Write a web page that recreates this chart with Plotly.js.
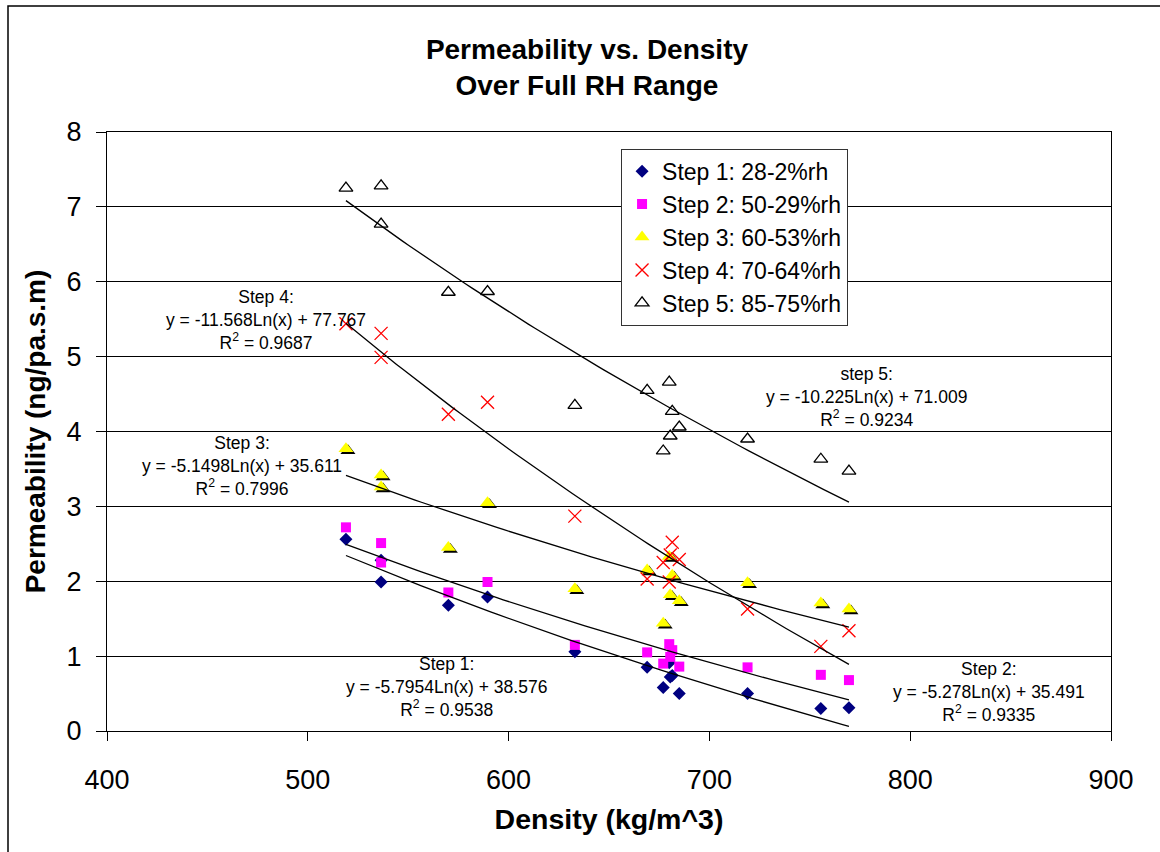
<!DOCTYPE html>
<html>
<head>
<meta charset="utf-8">
<script src="https://cdn.plot.ly/plotly-3.0.1.min.js"></script>
<style>
  html, body { margin: 0; padding: 0; background: #fff; }
  #chart { width: 1160px; height: 852px; }
</style>
</head>
<body>
<div id="chart"></div>
<script>
// ---- Data ----
const density = [519, 536.5, 536.5, 570, 589.5, 633, 669, 677, 680, 680.5, 681.5, 685, 719, 755.5, 769.5];

const step1 = [2.56, 2.28, 1.99, 1.68, 1.79, 1.06, 0.85, 0.58, 0.91, 0.72, 0.74, 0.50, 0.50, 0.30, 0.31];
const step2 = [2.72, 2.51, 2.25, 1.85, 1.99, 1.15, 1.05, 0.90, 1.16, 0.99, 1.08, 0.86, 0.85, 0.75, 0.68];
const step3 = [3.77, 3.42, 3.26, 2.45, 3.05, 1.90, 2.15, 1.44, 2.33, 1.82, 2.08, 1.74, 1.98, 1.71, 1.63];
const step4 = [5.44, 5.31, 4.99, 4.23, 4.39, 2.87, 2.03, 2.25, 1.99, 2.35, 2.52, 2.29, 1.63, 1.13, 1.34];
const step5 = [7.25, 7.28, 6.77, 5.86, 5.87, 4.35, 4.55, 3.74, 4.66, 3.94, 4.27, 4.06, 3.90, 3.63, 3.47];

const seriesNames = ["Step 1: 28-2%rh", "Step 2: 50-29%rh", "Step 3: 60-53%rh", "Step 4: 70-64%rh", "Step 5: 85-75%rh"];

// Logarithmic trendline coefficients as printed on the chart: y = a*Ln(x) + b
const trendA = [-5.7954, -5.278, -5.1498, -11.568, -10.225];
const trendB = [38.576, 35.491, 35.611, 77.767, 71.009];
const trendR2 = ["0.9538", "0.9335", "0.7996", "0.9687", "0.9234"];
const trendLabels = ["Step 1:", "Step 2:", "Step 3:", "Step 4:", "step 5:"];

const xTicks = [400, 500, 600, 700, 800, 900];
const yTicks = [0, 1, 2, 3, 4, 5, 6, 7, 8];

// ---- Build traces ----
const FONT = "Arial, 'Liberation Sans', Helvetica, sans-serif";

// pixel -> data conversion for the small drop shadow of the yellow triangles
const plotW = 1004, plotH = 599;
const shadowDx = 2 * (900 - 400) / plotW;
const shadowDy = -2 * (8 - 0) / plotH;

const traces = [];

traces.push({
  x: density, y: step1, mode: "markers", type: "scatter", name: seriesNames[0],
  marker: { symbol: "diamond", color: "#000080", size: 10 }
});
traces.push({
  x: density, y: step2, mode: "markers", type: "scatter", name: seriesNames[1],
  marker: { symbol: "square", color: "#FF00FF", size: 10 }
});
// shadow for step 3 triangles
traces.push({
  x: density.map(v => v + shadowDx), y: step3.map(v => v + shadowDy),
  mode: "markers", type: "scatter", showlegend: false, hoverinfo: "skip",
  marker: { symbol: "triangle-up", color: "#000000", size: 13 }
});
traces.push({
  x: density, y: step3, mode: "markers", type: "scatter", name: seriesNames[2],
  marker: { symbol: "triangle-up", color: "#FFFF00", size: 13 }
});
traces.push({
  x: density, y: step4, mode: "markers", type: "scatter", name: seriesNames[3],
  marker: { symbol: "x-thin-open", color: "#FF0000", size: 13, line: { color: "#FF0000", width: 1.3 } }
});
traces.push({
  x: density, y: step5, mode: "markers", type: "scatter", name: seriesNames[4],
  marker: { symbol: "triangle-up-open", color: "#000000", size: 12, line: { color: "#000000", width: 1.3 } }
});

// trendlines
const xMin = Math.min(...density), xMax = Math.max(...density);
const nT = 80;
const tx = [];
for (let i = 0; i <= nT; i++) tx.push(xMin + (xMax - xMin) * i / nT);
for (let k = 0; k < 5; k++) {
  traces.push({
    x: tx, y: tx.map(v => trendA[k] * Math.log(v) + trendB[k]),
    mode: "lines", type: "scatter", showlegend: false, hoverinfo: "skip",
    line: { color: "#000000", width: 1.3 }
  });
}

// trendline equation labels
function eqText(k) {
  const a = trendA[k], b = trendB[k];
  return trendLabels[k] + "<br>y = " + a + "Ln(x) + " + b + "<br>R<sup>2</sup> = " + trendR2[k];
}
// label positions (data coords): index -> [x, y]
const labelPos = [[569.3, 0.59], [839.2, 0.525], [467.2, 3.54], [479.2, 5.49], [778, 4.46]];
const annotations = labelPos.map((p, k) => ({
  x: p[0], y: p[1], xref: "x", yref: "y", text: eqText(k), showarrow: false,
  xanchor: "center", yanchor: "middle", align: "center",
  font: { family: FONT, size: 17.5, color: "#000" }
}));

const layout = {
  width: 1160, height: 852,
  margin: { l: 107, r: 49, t: 132, b: 121, pad: 0 },
  paper_bgcolor: "#fff", plot_bgcolor: "#fff",
  showlegend: true,
  title: {
    text: "Permeability vs. Density<br>Over Full RH Range",
    font: { family: FONT, size: 28, weight: 700, color: "#000" },
    x: 0.506, xref: "container", xanchor: "center",
    y: 0.931, yref: "container", yanchor: "middle"
  },
  xaxis: {
    range: [400, 900], tickvals: xTicks, ticktext: xTicks.map(String),
    showgrid: false, zeroline: false,
    showline: true, linecolor: "#000", linewidth: 1, mirror: true,
    ticks: "outside", ticklen: 9, tickcolor: "#000", tickwidth: 1,
    ticklabelstandoff: 16,
    tickfont: { family: FONT, size: 27, color: "#000" },
    title: { text: "Density (kg/m^3)", font: { family: FONT, size: 28.5, weight: 700, color: "#000" }, standoff: 14 }
  },
  yaxis: {
    range: [0, 8], tickvals: yTicks, ticktext: yTicks.map(String),
    showgrid: true, gridcolor: "#000", gridwidth: 1, zeroline: false,
    showline: true, linecolor: "#000", linewidth: 1, mirror: true,
    ticks: "outside", ticklen: 10, tickcolor: "#000", tickwidth: 1,
    ticklabelstandoff: 9,
    tickfont: { family: FONT, size: 27, color: "#000" },
    title: { text: "Permeability (ng/pa.s.m)", font: { family: FONT, size: 28, weight: 700, color: "#000" }, standoff: 12 }
  },
  legend: {
    x: 0.512, y: 0.972, xref: "paper", yref: "paper", xanchor: "left", yanchor: "top",
    bgcolor: "#fff", bordercolor: "#333", borderwidth: 1,
    font: { family: FONT, size: 23, color: "#000" },
    itemwidth: 30, tracegroupgap: 0
  },
  annotations: annotations,
  shapes: [{
    type: "rect", xref: "paper", yref: "paper",
    x0: (8 - 107) / plotW, x1: 1.2, y0: -0.4, y1: (731 - 6) / plotH,
    line: { color: "#000", width: 1.5 }, fillcolor: "rgba(0,0,0,0)", layer: "above"
  }]
};

Plotly.newPlot("chart", traces, layout, { staticPlot: true, displayModeBar: false });
</script>
</body>
</html>
